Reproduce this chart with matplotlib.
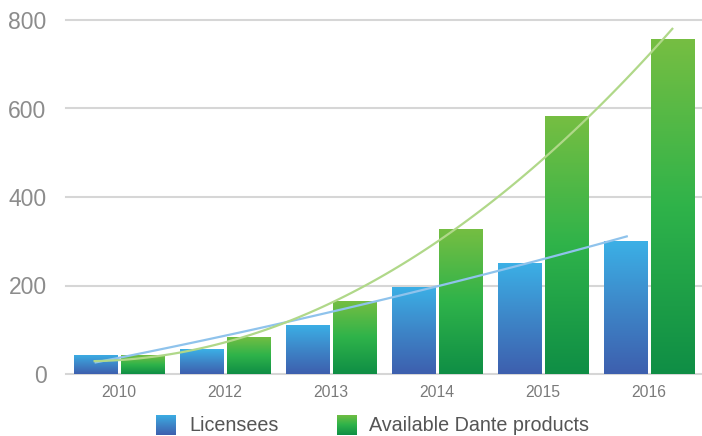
import numpy as np
import matplotlib
matplotlib.use("Agg")
import matplotlib.pyplot as plt
from matplotlib.colors import LinearSegmentedColormap
from matplotlib.patches import Rectangle

years = ["2010", "2012", "2013", "2014", "2015", "2016"]
licensees = [43, 56, 111, 197, 251, 300]
products = [42, 84, 165, 328, 583, 757]
yticks = [0, 200, 400, 600, 800]
series_names = ["Licensees", "Available Dante products"]

# trendline points (category index, value)
blue_trend_x = [-0.22, 0.0, 0.69, 1.32, 1.95, 2.64, 3.27, 4.14, 4.79]
blue_trend_y = [28, 38, 70, 99, 130, 185, 220, 265, 310]
green_trend_x = [-0.23, 0.01, 1.01, 1.63, 2.26, 3.17, 3.58, 4.14, 4.50, 5.22]
green_trend_y = [26, 34, 77, 118, 190, 330, 400, 514, 599, 780]

plt.rcParams['font.family'] = ['Liberation Sans', 'DejaVu Sans']

blue_cmap = LinearSegmentedColormap.from_list("b", ["#3d5fae", "#3e86c8", "#3bb0e6"])
green_cmap = LinearSegmentedColormap.from_list("g", ["#0f8e45", "#2fb34a", "#76be42"])

fig = plt.figure(figsize=(7.02, 4.36), dpi=100)
ax = fig.add_axes([66/702, 62/436, 636/702, 354/436])
x = np.arange(len(years))
w = 0.41
gap = 0.015
grad = np.linspace(0, 1, 256).reshape(-1, 1)

for i in range(len(years)):
    for val, off, cmap in [(licensees[i], -w/2 - gap, blue_cmap), (products[i], w/2 + gap, green_cmap)]:
        left = x[i] + off - w/2
        rect = Rectangle((left, 0), w, val, facecolor='none', edgecolor='none')
        ax.add_patch(rect)
        im = ax.imshow(grad, cmap=cmap, aspect='auto', origin='lower',
                       extent=(left, left + w, 0, val), zorder=2)
        im.set_clip_path(rect)

# smooth trendlines through the read points
xb = np.linspace(blue_trend_x[0], blue_trend_x[-1], 100)
cb = np.polyfit(blue_trend_x, blue_trend_y, 2)
ax.plot(xb, np.polyval(cb, xb), color="#8fc3ec", lw=1.6, zorder=3, clip_on=False)
xg = np.linspace(green_trend_x[0], green_trend_x[-1], 100)
cg = np.polyfit(green_trend_x, green_trend_y, 2)
ax.plot(xg, np.polyval(cg, xg), color="#b0d889", lw=1.6, zorder=3, clip_on=False)

ax.set_xlim(-0.5, len(years) - 0.5)
ax.set_ylim(0, 800)
ax.set_yticks(yticks)
ax.set_yticklabels([str(v) for v in yticks], fontsize=16.5, color="#8c8c8c")
ax.set_xticks(x)
ax.set_xticklabels(years, fontsize=11.3, color="#7a7a7a")
ax.tick_params(axis='y', length=0, pad=14)
ax.tick_params(axis='x', length=0, pad=8)
for s in ax.spines.values():
    s.set_visible(False)
for v in yticks:
    ax.axhline(v, color="#d6d6d6", lw=1.5, zorder=1, clip_on=False)

# legend
for (lx, tx, name, cmap) in [(156, 189, series_names[0], blue_cmap), (337, 369, series_names[1], green_cmap)]:
    lax = fig.add_axes([lx/702, (436-435)/436, 20/702, 20/436])
    lax.imshow(grad, cmap=cmap, aspect='auto', origin='lower')
    lax.axis('off')
    fig.text(tx/702, (436-425)/436, name, fontsize=14.2, color="#555555", va='center', ha='left')

fig.savefig("out.png", dpi=100)
